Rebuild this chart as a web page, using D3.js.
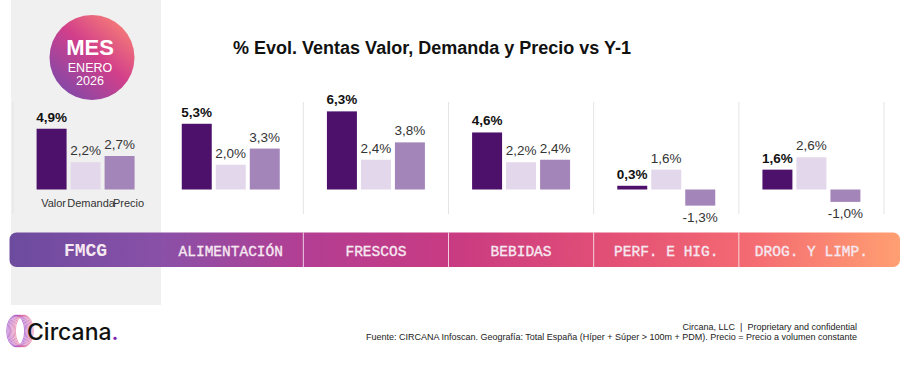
<!DOCTYPE html>
<html>
<head>
<meta charset="utf-8">
<script src="https://cdn.jsdelivr.net/npm/d3@7"></script>
<style>
  html, body { margin: 0; padding: 0; background: #ffffff; }
  svg { display: block; }
</style>
</head>
<body>
<svg id="chart" width="911" height="381"></svg>
<script>
// ---- data ----
const categories = ["FMCG", "ALIMENTACIÓN", "FRESCOS", "BEBIDAS", "PERF. E HIG.", "DROG. Y LIMP."];
const series = ["Valor", "Demanda", "Precio"];
const valor   = [4.9, 5.3, 6.3, 4.6, 0.3, 1.6];
const demanda = [2.2, 2.0, 2.4, 2.2, 1.6, 2.6];
const precio  = [2.7, 3.3, 3.8, 2.4, -1.3, -1.0];
const title = "% Evol. Ventas Valor, Demanda y Precio vs Y-1";
const badge = ["MES", "ENERO", "2026"];
const footer1 = "Circana, LLC  |  Proprietary and confidential";
const footer2 = "Fuente: CIRCANA Infoscan. Geografía: Total España (Híper + Súper > 100m + PDM). Precio = Precio a volumen constante";

const colors = { Valor: "#4e116b", Demanda: "#e3d7eb", Precio: "#a385b9" };
const rows = categories.map((c, i) => ({ cat: c, Valor: valor[i], Demanda: demanda[i], Precio: precio[i] }));

const svg = d3.select("#chart");
const font = "'Liberation Sans', Arial, sans-serif";

const defs = svg.append("defs");

// ---- grey highlight panel ----
svg.append("rect").attr("x", 11).attr("y", 0).attr("width", 150).attr("height", 305).attr("fill", "#f0f0f0");

// ---- badge ----
const cg = defs.append("linearGradient").attr("id", "circleGrad")
  .attr("x1", "85%").attr("y1", "10%").attr("x2", "15%").attr("y2", "90%");
cg.append("stop").attr("offset", "0%").attr("stop-color", "#f47a78");
cg.append("stop").attr("offset", "45%").attr("stop-color", "#d23f8a");
cg.append("stop").attr("offset", "100%").attr("stop-color", "#8448a8");
svg.append("circle").attr("cx", 92).attr("cy", 57.5).attr("r", 42.5).attr("fill", "url(#circleGrad)");
svg.append("text").attr("x", 90).attr("y", 55).attr("text-anchor", "middle")
  .attr("font-family", font).attr("font-weight", "bold").attr("font-size", 22).attr("fill", "#fff").text(badge[0]);
svg.append("text").attr("x", 90).attr("y", 71.5).attr("text-anchor", "middle")
  .attr("font-family", font).attr("font-size", 12.5).attr("fill", "#fff").text(badge[1]);
svg.append("text").attr("x", 90).attr("y", 85).attr("text-anchor", "middle")
  .attr("font-family", font).attr("font-size", 12.5).attr("fill", "#fff").text(badge[2]);

// ---- title ----
svg.append("text").attr("x", 432).attr("y", 54).attr("text-anchor", "middle")
  .attr("font-family", font).attr("font-weight", "bold").attr("font-size", 18).attr("fill", "#111").text(title);

// ---- scales ----
const x0 = d3.scaleBand().domain(categories).range([13, 884]);
const x1 = d3.scaleBand().domain(series).range([0, x0.bandwidth()]).paddingInner(0.118).paddingOuter(0.694);
const y = d3.scaleLinear().domain([-2, 7]).range([214.3, 102.7]);

// ---- separators ----
const sepX = [x0.range()[0], ...categories.slice(2).map(c => x0(c)), x0.range()[1]];
svg.append("g").selectAll("line").data(sepX).join("line")
  .attr("x1", d => d).attr("x2", d => d).attr("y1", 102).attr("y2", 214)
  .attr("stroke", "#e4e4e4").attr("stroke-width", 1);

// ---- bars ----
const fmt = v => d3.format(".1f")(v).replace(".", ",").replace("−", "-") + "%";
const groups = svg.append("g").selectAll("g").data(rows).join("g")
  .attr("transform", d => `translate(${x0(d.cat)},0)`);
groups.selectAll("rect").data(d => series.map(s => ({ s, v: d[s] }))).join("rect")
  .attr("x", d => x1(d.s)).attr("width", x1.bandwidth())
  .attr("y", d => y(Math.max(0, d.v))).attr("height", d => Math.abs(y(d.v) - y(0)))
  .attr("fill", d => colors[d.s]);
groups.selectAll("text").data(d => series.map(s => ({ s, v: d[s] }))).join("text")
  .attr("x", d => x1(d.s) + x1.bandwidth() / 2)
  .attr("y", d => d.v >= 0 ? y(d.v) - 7 : y(d.v) + 16)
  .attr("text-anchor", "middle").attr("font-family", font).attr("font-size", 13.5)
  .attr("font-weight", d => d.s === "Valor" ? "bold" : "normal")
  .attr("fill", d => d.s === "Valor" ? "#111" : "#333")
  .text(d => fmt(d.v));

// ---- series labels under first group ----
const lblShift = [2, 5.5, 9];
svg.append("g").selectAll("text").data(series).join("text")
  .attr("x", (s, i) => x0(categories[0]) + x1(s) + x1.bandwidth() / 2 + lblShift[i])
  .attr("y", 206.5).attr("text-anchor", "middle")
  .attr("font-family", font).attr("font-size", 11).attr("fill", "#333").text(s => s);

// ---- category strip ----
const sg = defs.append("linearGradient").attr("id", "stripGrad").attr("x1", "0%").attr("x2", "100%").attr("y1", "0").attr("y2", "0");
[["0%", "#6c4b9e"], ["17%", "#8a50a8"], ["33%", "#b33e93"], ["50%", "#c93b82"], ["67%", "#e24f76"], ["83%", "#f46a72"], ["100%", "#ff9f72"]]
  .forEach(([o, c]) => sg.append("stop").attr("offset", o).attr("stop-color", c));
svg.append("rect").attr("x", 9.5).attr("y", 232.5).attr("width", 890.5).attr("height", 34.5).attr("rx", 7)
  .attr("fill", "url(#stripGrad)");
svg.append("g").selectAll("line").data(categories.slice(2)).join("line")
  .attr("x1", c => x0(c)).attr("x2", c => x0(c)).attr("y1", 232.5).attr("y2", 267)
  .attr("stroke", "#ffffff").attr("stroke-opacity", 0.75).attr("stroke-width", 1);
svg.append("g").selectAll("text").data(categories).join("text")
  .attr("x", c => x0(c) + x0.bandwidth() / 2).attr("y", 255.5).attr("text-anchor", "middle")
  .attr("font-family", "'Liberation Mono', 'Courier New', monospace")
  .attr("font-size", (c, i) => i === 0 ? 18 : 14.5)
  .attr("font-weight", (c, i) => i === 0 ? "bold" : "normal")
  .attr("fill", "#f6e8f1").attr("stroke", "#f6e8f1").attr("stroke-width", (c, i) => i === 0 ? 0 : 0.35)
  .text(c => c);

// ---- logo ----
const logo = svg.append("g");
const nRings = 8;
const ringColor = d3.interpolateRgb("#9a3fc6", "#e5709c");
logo.selectAll("ellipse").data(d3.range(nRings)).join("ellipse")
  .attr("cx", i => 15.7 + i * (8.6 / (nRings - 1))).attr("cy", 331).attr("rx", 9).attr("ry", 15.8)
  .attr("fill", "none").attr("stroke", i => ringColor(i / (nRings - 1))).attr("stroke-width", 0.7);
const lt = logo.append("text").attr("x", 27).attr("y", 340)
  .attr("font-family", "Inter, 'Noto Sans', sans-serif").attr("font-weight", 500).attr("font-size", 23).attr("fill", "#111");
lt.append("tspan").text("Circana");
lt.append("tspan").attr("fill", "#7d22b0").text(".");

// ---- footer ----
svg.append("text").attr("x", 857).attr("y", 330).attr("text-anchor", "end")
  .attr("font-family", font).attr("font-size", 9).attr("fill", "#222").attr("xml:space", "preserve").text(footer1);
svg.append("text").attr("x", 857).attr("y", 339.5).attr("text-anchor", "end")
  .attr("font-family", font).attr("font-size", 9).attr("fill", "#222").text(footer2);
</script>
</body>
</html>
